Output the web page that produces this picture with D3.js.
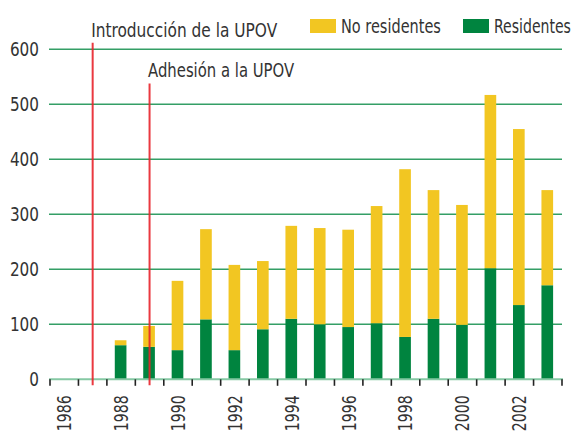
<!DOCTYPE html>
<html>
<head>
<meta charset="utf-8">
<script src="https://cdn.jsdelivr.net/npm/d3@7"></script>
<style>
  html, body { margin: 0; padding: 0; background: #fff; }
  svg text { font-family: "DejaVu Sans Condensed", "Liberation Sans Narrow", "Arial Narrow", sans-serif; fill: #333; }
</style>
</head>
<body>
<svg id="chart" width="574" height="432"></svg>
<script>
// Solicitudes de títulos de obtentor por año
const years = [1986, 1987, 1988, 1989, 1990, 1991, 1992, 1993, 1994, 1995,
               1996, 1997, 1998, 1999, 2000, 2001, 2002, 2003];
const residentes   = [0, 0, 62, 59, 53, 109, 53, 91, 110, 100, 95, 102, 77, 110, 99, 202, 135, 171];
const noResidentes = [0, 0, 9, 38, 126, 164, 155, 124, 169, 175, 177, 213, 305, 234, 218, 315, 320, 173];
const yTicks = [0, 100, 200, 300, 400, 500, 600];
const xTickLabels = [1986, 1988, 1990, 1992, 1994, 1996, 1998, 2000, 2002];
const seriesNames = ["Residentes", "No residentes"];
const events = [
  { year: 1987, label: "Introducción de la UPOV", top: 612 },
  { year: 1989, label: "Adhesión a la UPOV", top: 538 }
];

const COLORS = { "Residentes": "#00843f", "No residentes": "#f2c622" };
const FS = "19px";
const CHAR_W = 9.7; // narrow face: average advance per glyph

const svg = d3.select("#chart");
const margin = { left: 50, right: 12, top: 49.3, bottom: 52.7 };
const W = 574, H = 432;

const x = d3.scaleBand().domain(years).range([margin.left, W - margin.right]).padding(0);
const y = d3.scaleLinear().domain([0, 600]).range([H - margin.bottom, margin.top]);

// squeeze a label to a narrow width while keeping its height
function narrow(sel, w) {
  sel.attr("textLength", w).attr("lengthAdjust", "spacingAndGlyphs");
}

// horizontal grid
svg.append("g")
  .selectAll("line")
  .data(yTicks.filter(d => d > 0))
  .join("line")
  .attr("x1", margin.left - 1).attr("x2", W - margin.right)
  .attr("y1", d => y(d)).attr("y2", d => y(d))
  .attr("stroke", "#1e9455").attr("stroke-width", 1.4).attr("stroke-opacity", 0.9);

// y labels
svg.append("g")
  .selectAll("text")
  .data(yTicks)
  .join("text")
  .attr("x", 39).attr("y", d => y(d))
  .attr("dy", "0.36em")
  .attr("text-anchor", "end")
  .style("font-size", FS)
  .text(d => d)
  .each(function (d) { narrow(d3.select(this), String(d).length * CHAR_W); });

// stacked bars
const table = years.map((yr, i) => ({ year: yr, "Residentes": residentes[i], "No residentes": noResidentes[i] }));
const stack = d3.stack().keys(seriesNames)(table);
const barW = x.bandwidth() * 0.41;

svg.append("g")
  .selectAll("g")
  .data(stack)
  .join("g")
  .attr("fill", d => COLORS[d.key])
  .selectAll("rect")
  .data(d => d)
  .join("rect")
  .attr("x", d => x(d.data.year) + (x.bandwidth() - barW) / 2 - 0.5)
  .attr("width", barW)
  .attr("y", d => y(d[1]))
  .attr("height", d => y(d[0]) - y(d[1]));

// baseline
svg.append("line")
  .attr("x1", margin.left - 1).attr("x2", W - margin.right + 1)
  .attr("y1", y(0)).attr("y2", y(0))
  .attr("stroke", "#86c9a4").attr("stroke-width", 2);

// ticks at category boundaries
const boundaries = years.map(yr => x(yr)).concat([x(years[years.length - 1]) + x.bandwidth()]);
svg.append("g")
  .selectAll("line")
  .data(boundaries)
  .join("line")
  .attr("x1", d => d).attr("x2", d => d)
  .attr("y1", y(0)).attr("y2", y(0) + 6.5)
  .attr("stroke", "#222").attr("stroke-width", 1.6);

// x labels
svg.append("g")
  .selectAll("text")
  .data(xTickLabels)
  .join("text")
  .attr("transform", d => `translate(${x(d) + x.bandwidth() / 2},${y(0) + 16}) rotate(-90)`)
  .attr("dy", "0.36em")
  .attr("text-anchor", "end")
  .style("font-size", FS)
  .text(d => d)
  .call(narrow, 36);

// event markers
svg.append("g")
  .selectAll("line")
  .data(events)
  .join("line")
  .attr("x1", d => x(d.year) + x.bandwidth() / 2)
  .attr("x2", d => x(d.year) + x.bandwidth() / 2)
  .attr("y1", d => y(d.top)).attr("y2", y(0) + 6)
  .attr("stroke", "#e8232b").attr("stroke-width", 2).attr("stroke-opacity", 0.9);

const eventWidths = [186, 146];
svg.append("g")
  .selectAll("text")
  .data(events)
  .join("text")
  .attr("x", d => x(d.year) + x.bandwidth() / 2 - 1.5)
  .attr("y", d => y(d.top) - 6)
  .style("font-size", FS)
  .text(d => d.label)
  .each(function (d, i) { narrow(d3.select(this), eventWidths[i]); });

// legend: swatch plus a horizontally condensed label
const legend = [
  { key: "No residentes", x: 310, w: 100 },
  { key: "Residentes", x: 463, w: 77 }
];
const lg = svg.append("g").selectAll("g").data(legend).join("g")
  .attr("transform", d => `translate(${d.x},19)`);
lg.append("rect").attr("width", 26).attr("height", 14).attr("fill", d => COLORS[d.key]);
lg.append("text")
  .attr("y", 14)
  .style("font-size", FS)
  .text(d => d.key)
  .each(function (d) {
    const natural = this.getComputedTextLength();
    d3.select(this).attr("transform", `translate(31,0) scale(${d.w / natural},1)`);
  });
</script>
</body>
</html>
